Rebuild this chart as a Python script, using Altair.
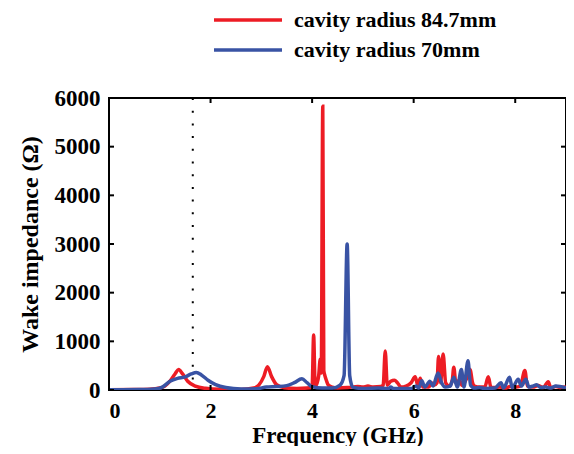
import altair as alt
import pandas as pd

# ---- data ----
red_freq = [0.0, 0.5, 0.8, 1.0, 1.1, 1.2, 1.3, 1.37, 1.45, 1.55, 1.7, 1.9, 2.2, 2.6, 2.85, 2.95, 3.05,
            3.12, 3.2, 3.3, 3.45, 3.7, 3.9, 4.0, 4.03, 4.06, 4.1, 4.13, 4.16, 4.18, 4.21, 4.23, 4.25,
            4.28, 4.32, 4.4, 4.5, 4.7, 4.9, 5.0, 5.1, 5.2, 5.35, 5.4, 5.44, 5.48, 5.55, 5.62, 5.68,
            5.75, 5.85, 5.95, 6.03, 6.08, 6.13, 6.18, 6.3, 6.35, 6.4, 6.46, 6.49, 6.53, 6.58, 6.63,
            6.7, 6.76, 6.79, 6.83, 6.9, 6.95, 7.05, 7.11, 7.16, 7.2, 7.3, 7.4, 7.47, 7.52, 7.6, 7.7,
            7.8, 7.9, 8.0, 8.1, 8.19, 8.24, 8.35, 8.45, 8.55, 8.65, 8.7, 8.8, 8.9, 9.0]
red_imp = [5, 8, 15, 40, 80, 180, 330, 420, 330, 180, 80, 35, 15, 12, 40, 100, 280,
           480, 280, 110, 45, 30, 40, 60, 1130, 80, 150, 300, 630, 350, 5830, 400, 300,
           200, 100, 60, 40, 50, 70, 60, 80, 60, 70, 100, 800, 100, 180, 200, 150,
           60, 80, 150, 270, 100, 240, 60, 60, 150, 100, 150, 690, 150, 740, 150,
           80, 200, 470, 150, 200, 100, 250, 420, 150, 80, 60, 60, 270, 60, 50, 60,
           40, 70, 60, 80, 400, 80, 60, 90, 50, 170, 50, 70, 50, 60]

blue_freq = [0.0, 0.6, 0.9, 1.05, 1.2, 1.35, 1.5, 1.62, 1.72, 1.82, 1.95, 2.1, 2.3, 2.6, 2.9, 3.1,
             3.3, 3.5, 3.65, 3.8, 3.9, 4.0, 4.2, 4.4, 4.55, 4.63, 4.69, 4.74, 4.8, 5.0, 5.3, 5.5,
             5.55, 5.6, 5.8, 5.95, 6.05, 6.1, 6.16, 6.22, 6.32, 6.38, 6.48, 6.55, 6.62, 6.72, 6.79,
             6.86, 6.94, 6.99, 7.07, 7.12, 7.2, 7.3, 7.4, 7.6, 7.72, 7.77, 7.89, 7.94, 8.06, 8.12,
             8.21, 8.27, 8.35, 8.42, 8.5, 8.6, 8.7, 8.8, 9.0]
blue_imp = [5, 8, 20, 60, 180, 240, 270, 330, 360, 310, 200, 110, 50, 20, 25, 60,
            70, 90, 150, 230, 150, 70, 40, 40, 100, 300, 3000, 300, 60, 30, 40, 30,
            60, 30, 30, 30, 80, 40, 190, 60, 180, 80, 350, 150, 60, 80, 260,
            60, 420, 60, 600, 100, 40, 50, 30, 40, 150, 40, 260, 50, 220, 80,
            220, 60, 80, 110, 50, 60, 40, 80, 40]

series_names = ["cavity radius 84.7mm", "cavity radius 70mm"]
series_colors = ["#ED1C24", "#3953A4"]
x_ticks = [0, 2, 4, 6, 8]
y_ticks = [0, 1000, 2000, 3000, 4000, 5000, 6000]
marker_freq = [1.65]

df = pd.concat([
    pd.DataFrame({"f": red_freq, "v": red_imp, "series": series_names[0]}),
    pd.DataFrame({"f": blue_freq, "v": blue_imp, "series": series_names[1]}),
])

W, H = 457, 292
FONT = "Liberation Serif"

x_scale = alt.Scale(domain=[0, 9], nice=False, zero=False)
y_scale = alt.Scale(domain=[0, 6000], nice=False)
color_scale = alt.Scale(domain=series_names, range=series_colors)

x_enc = alt.X("f:Q", scale=x_scale,
              axis=alt.Axis(values=x_ticks, title="Frequency (GHz)", labelPadding=10,
                            labelFontSize=22, titleFontSize=23,
                            titleY=52, titleBaseline="alphabetic", format="d"))
y_enc = alt.Y("v:Q", scale=y_scale,
              axis=alt.Axis(values=y_ticks, title="Wake impedance (Ω)", labelPadding=9,
                            titlePadding=12, format="d"))

base = alt.Chart(df)

red = base.transform_filter(alt.datum.series == series_names[0]).mark_line(
    strokeWidth=3.5, clip=True, interpolate="monotone").encode(
    x=x_enc, y=y_enc,
    color=alt.Color("series:N", scale=color_scale,
                    legend=alt.Legend(title=None, orient="none", legendX=103, legendY=-91,
                                      symbolType="stroke", symbolSize=4624,
                                      symbolStrokeWidth=3.5, labelOffset=10,
                                      labelFont=FONT, labelFontWeight="bold",
                                      labelFontSize=22, labelColor="black", labelLimit=400,
                                      clipHeight=26, rowPadding=4)),
)
blue = base.transform_filter(alt.datum.series == series_names[1]).mark_line(
    strokeWidth=3.5, clip=True, interpolate="monotone").encode(
    x=x_enc, y=y_enc, color=alt.Color("series:N", scale=color_scale))

marker = alt.Chart(pd.DataFrame({"f": marker_freq})).mark_rule(
    color="black", strokeWidth=2, strokeDash=[2, 10.7]).encode(
    x=alt.X("f:Q", scale=x_scale), y=alt.value(0), y2=alt.value(H))

xt = pd.DataFrame({"f": x_ticks})
yt = pd.DataFrame({"v": y_ticks})
tick_top = alt.Chart(xt).mark_rule(color="black", strokeWidth=2).encode(
    x=alt.X("f:Q", scale=x_scale), y=alt.value(0), y2=alt.value(5))
tick_bot = alt.Chart(xt).mark_rule(color="black", strokeWidth=2).encode(
    x=alt.X("f:Q", scale=x_scale), y=alt.value(H - 5), y2=alt.value(H))
tick_left = alt.Chart(yt).mark_rule(color="black", strokeWidth=2).encode(
    y=alt.Y("v:Q", scale=y_scale), x=alt.value(0), x2=alt.value(5))
tick_right = alt.Chart(yt).mark_rule(color="black", strokeWidth=2).encode(
    y=alt.Y("v:Q", scale=y_scale), x=alt.value(W - 5), x2=alt.value(W))

chart = alt.layer(marker, red, blue, tick_top, tick_bot, tick_left, tick_right).properties(
    width=W, height=H,
    autosize=alt.AutoSizeParams(type="none"),
    padding={"left": 101, "top": 90, "right": 0, "bottom": 56},
).configure_view(stroke="black", strokeWidth=2).configure_axis(
    labelFont=FONT, labelFontWeight="bold", labelFontSize=23, labelColor="black",
    titleFont=FONT, titleFontWeight="bold", titleFontSize=24, titleColor="black",
    domain=False, ticks=False, grid=False,
)

chart.save("out.html", embed_options={"renderer": "svg", "actions": False})
